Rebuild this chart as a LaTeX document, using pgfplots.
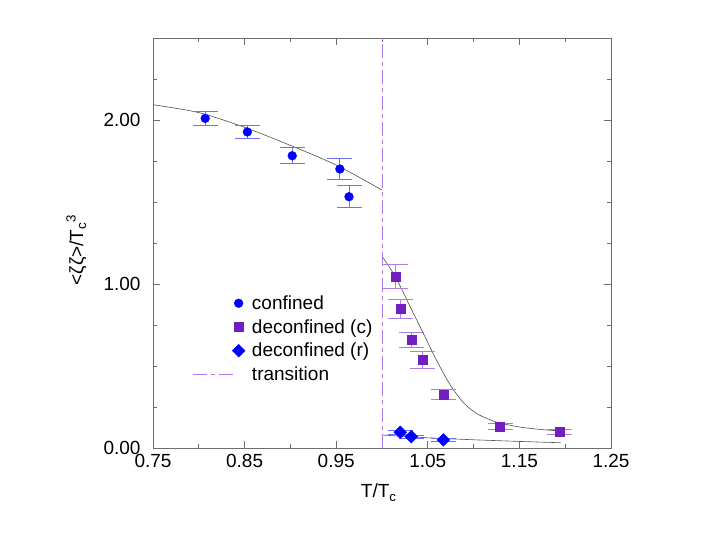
\documentclass[border=0pt]{standalone}
\usepackage{fontspec}
\setmainfont{Liberation Sans}
\usepackage{pgfplots}
\pgfplotsset{compat=1.18}
\definecolor{cblue}{RGB}{0,0,255}
\definecolor{cblueerr}{RGB}{110,110,255}
\definecolor{cpurple}{RGB}{112,32,192}
\definecolor{cpurpleerr}{RGB}{175,125,225}
\definecolor{ctrans}{RGB}{178,120,238}
\definecolor{axgray}{RGB}{110,110,110}
\definecolor{fitgray}{RGB}{80,80,80}
\pgfplotsset{
  markleg/.style={legend image code/.code={\draw[##1] plot coordinates {(46bp,0bp)};}},
  lineleg/.style={legend image code/.code={\draw[##1] (0bp,0bp) -- (43bp,0bp);}},
}

\begin{document}
\begin{tikzpicture}[x=1bp,y=1bp]
\useasboundingbox (0,0) rectangle (708,537);
\begin{axis}[
  at={(153bp,89bp)}, anchor=south west,
  scale only axis, width=458bp, height=410bp,
  xmin=0.75, xmax=1.25, ymin=0, ymax=2.5,
  xtick={0.75,0.85,0.95,1.05,1.15,1.25},
  minor xtick={0.8,0.9,1.0,1.1,1.2},
  ytick={0,1,2},
  minor ytick={0.25,0.5,0.75,1.25,1.5,1.75,2.25},
  tick align=inside, major tick length=7bp, minor tick length=4bp,
  axis line style={axgray, line width=0.8bp},
  every tick/.style={axgray, line width=0.8bp},
  font=\fontsize{19bp}{23bp}\selectfont,
  /pgf/number format/assume math mode=true,
  xticklabel style={yshift=-3bp, /pgf/number format/.cd, fixed, fixed zerofill, precision=2},
  yticklabel style={xshift=-9bp, /pgf/number format/.cd, fixed, fixed zerofill, precision=2},
  xlabel={T/T\textsubscript{c}},
  ylabel={<ζζ>/T\textsubscript{c}\textsuperscript{3}},
  xlabel style={at={(axis description cs:0.493,0)}, anchor=base, yshift=-50bp},
  ylabel style={at={(axis description cs:0,0.483)}, anchor=base, yshift=70bp},
  legend cell align=left,
  legend style={draw=none, fill=none, at={(axis description cs:0.085,0.377)}, anchor=north west,
    font=\fontsize{19bp}{23bp}\selectfont, row sep=4.5bp, inner sep=0pt,
    /tikz/every odd column/.append style={column sep=5bp}},
]
% fits
\addplot[fitgray, line width=0.6bp, smooth, forget plot] coordinates {
(0.75,2.093) (0.80,2.045) (0.85,1.955) (0.90,1.845) (0.95,1.725) (1.0,1.573)};
\addplot[fitgray, line width=0.6bp, smooth, forget plot] coordinates {
(1.0,1.17) (1.015,1.04) (1.03,0.87) (1.045,0.70) (1.06,0.53) (1.075,0.38) (1.09,0.27)
(1.105,0.205) (1.125,0.158) (1.15,0.128) (1.175,0.112) (1.195,0.104)};
\addplot[fitgray, line width=0.6bp, forget plot] coordinates {
(1.0,0.079) (1.05,0.062) (1.1,0.05) (1.15,0.04) (1.195,0.032)};

\addplot[only marks, mark=*, mark size=4.4bp, color=cblue, markleg,
  error bars/.cd, y dir=both, y explicit,
  error bar style={cblueerr, line width=1bp},
  error mark options={cblueerr, rotate=90, mark size=12.5bp, line width=1bp},
] table[x=x, y=y, y error=e] {
x y e
0.807 2.010 0.042
0.853 1.927 0.040
0.902 1.782 0.048
0.954 1.701 0.064
0.964 1.532 0.066
};
\addlegendentry{confined}

\addplot[only marks, mark=square*, mark size=4.5bp, color=cpurple, markleg,
  error bars/.cd, y dir=both, y explicit,
  error bar style={cpurpleerr, line width=1bp},
  error mark options={cpurpleerr, rotate=90, mark size=12.5bp, line width=1bp},
] table[x=x, y=y, y error=e] {
x y e
1.015 1.045 0.075
1.020 0.848 0.059
1.032 0.659 0.048
1.044 0.537 0.050
1.067 0.327 0.030
1.129 0.130 0.020
1.194 0.100 0.015
};
\addlegendentry{deconfined (c)}

\addplot[only marks, mark=square*, mark size=4.5bp, mark options={rotate=45}, color=cblue, markleg,
  error bars/.cd, y dir=both, y explicit,
  error bar style={cblueerr, line width=1bp},
  error mark options={cblueerr, rotate=90, mark size=12.5bp, line width=1bp},
] table[x=x, y=y, y error=e] {
x y e
1.020 0.096 0.012
1.032 0.069 0.010
1.067 0.049 0.008
};
\addlegendentry{deconfined (r)}

\addplot[ctrans, line width=1bp, dash pattern=on 14bp off 4bp on 4bp off 4bp, lineleg]
  coordinates {(1,0) (1,2.5)};
\addlegendentry{transition}
\end{axis}
\end{tikzpicture}
\end{document}
